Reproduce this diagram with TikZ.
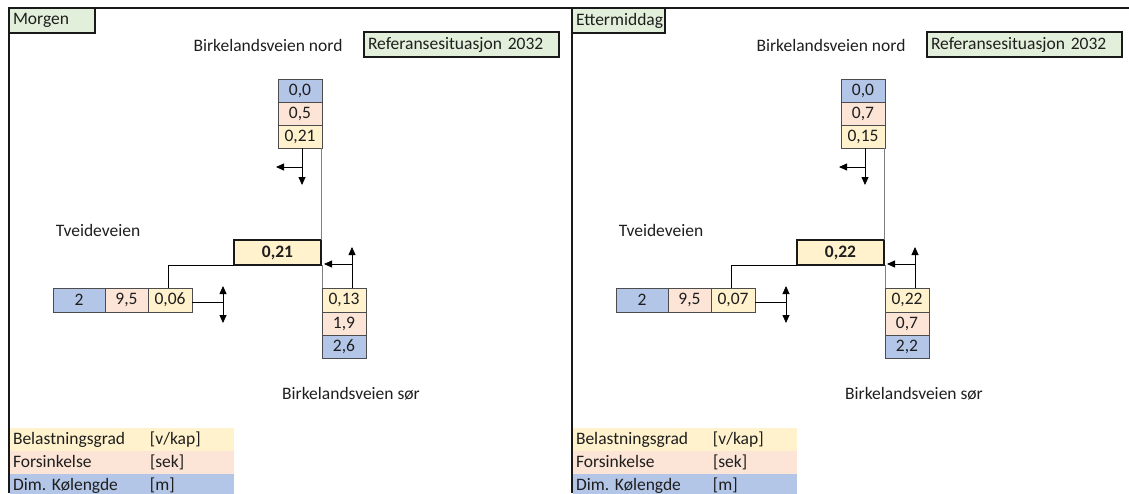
\documentclass[tikz,border=0pt]{standalone}
\usepackage{fontspec}
\setmainfont{Carlito}
\usetikzlibrary{positioning,arrows.meta}
\definecolor{blaa}{HTML}{B4C6E7}
\definecolor{rosa}{HTML}{FCE4D6}
\definecolor{gul}{HTML}{FFF2CC}
\definecolor{gronn}{HTML}{E2EFDA}
\definecolor{tekst}{HTML}{1E1E1E}
\tikzset{
  celle/.style={draw=black!70, line width=0.8pt, inner sep=0pt, outer sep=0pt, minimum width=44, minimum height=23},
  ramme/.style={draw=black!90, line width=2pt, inner sep=0pt, outer sep=0pt},
  tittel/.style={ramme, fill=gronn, inner xsep=4pt, minimum height=25, align=left, anchor=north west},
  forklaring/.style={inner xsep=3pt, inner ysep=0pt, outer sep=0pt, minimum height=23, text width=218pt, align=left, anchor=north west},
  pil/.style={-{Triangle[length=8pt,width=7pt]}, line width=0.8pt},
  dobbelpil/.style={{Triangle[length=8pt,width=7pt]}-{Triangle[length=8pt,width=7pt]}, line width=0.8pt},
  kobling/.style={line width=0.8pt}
}
\begin{document}
\begin{tikzpicture}[x=1pt,y=-1pt, every node/.style={text=tekst, font=\fontsize{17.5}{20}\selectfont}]
\useasboundingbox (0,0) rectangle (1129,493);
\draw[line width=2pt, black!90] (8,8) -- (1129,8);
\foreach \off/\tid/\tw/\nA/\nB/\nC/\midt/\vc/\sA/\sB/\sC [count=\i] in {
  0/Morgen/78/{0,0}/{0,5}/{0,21}/{0,21}/{0,06}/{0,13}/{1,9}/{2,6},
  563/Ettermiddag/85/{0,0}/{0,7}/{0,15}/{0,22}/{0,07}/{0,22}/{0,7}/{2,2}}{
\begin{scope}[xshift=\off pt]
  \draw[line width=2pt, black!90] (9,8) -- (9,493);
  \node[tittel, text width=\tw pt] (tid\i) at (9,8) {\tid};
  \node[tittel, text width=187pt] (ref\i) at (364,32) {Referansesituasjon 2032};
  \node (nord\i) at (268,45) {Birkelandsveien nord};
  \node (tveide\i) at (98,230) {Tveideveien};
  \node (sor\i) at (351,394) {Birkelandsveien sør};
  % nord
  \node[celle, fill=blaa] (na\i) at (300,90.5) {\nA};
  \node[celle, fill=rosa, below=0pt of na\i] (nb\i) {\nB};
  \node[celle, fill=gul, below=0pt of nb\i] (nc\i) {\nC};
  % midt
  \node[ramme, fill=gul, minimum width=87, minimum height=25, font=\fontsize{17.5}{20}\selectfont\bfseries] (midt\i) at (277.5,252.5) {\midt};
  % vest
  \node[celle, fill=blaa, minimum width=52, minimum height=24] (wa\i) at (79,300) {2};
  \node[celle, fill=rosa, minimum width=43, minimum height=24, right=0pt of wa\i] (wb\i) {9,5};
  \node[celle, fill=gul, minimum height=24, right=0pt of wb\i] (wc\i) {\vc};
  % sor
  \node[celle, fill=gul, minimum height=24] (sa\i) at (344,300) {\sA};
  \node[celle, fill=rosa, below=0pt of sa\i] (sb\i) {\sB};
  \node[celle, fill=blaa, below=0pt of sb\i] (sc\i) {\sC};
  % piler
  \coordinate (nv\i) at (302,185);
  \coordinate (nk\i) at (302,167);
  \coordinate (nh\i) at (276,167);
  \coordinate (wk\i) at (223,302);
  \coordinate (wo\i) at (223,286);
  \coordinate (wn\i) at (223,323);
  \coordinate (so\i) at (352,247);
  \coordinate (sk\i) at (352,264);
  \draw[pil] ([xshift=2pt]nc\i.south) -- (nv\i);
  \draw[pil] (nk\i) -- (nh\i);
  \draw[kobling] (wc\i.east |- wk\i) -- (wk\i);
  \draw[dobbelpil] (wo\i) -- (wn\i);
  \draw[pil] ([xshift=8pt]sa\i.north) -- (so\i);
  \draw[pil, shorten >=3pt] (sk\i) -- (sk\i -| midt\i.east);
  % koblinger
  \draw[kobling, black!50] (midt\i.north east) -- (midt\i.north east |- nc\i.south);
  \draw[kobling] (midt\i.south west) -| ([xshift=-2pt]wc\i.north);
  \draw[kobling, black!50] (sa\i.north west) -- (sa\i.north west |- midt\i.south);
  % forklaring
  \node[forklaring, fill=gul] (fa\i) at (10,428) {\makebox[137pt][l]{Belastningsgrad}[v/kap]};
  \node[forklaring, fill=rosa, below=0pt of fa\i] (fb\i) {\makebox[137pt][l]{Forsinkelse}[sek]};
  \node[forklaring, fill=blaa, below=0pt of fb\i] (fc\i) {\makebox[137pt][l]{Dim.\ Kølengde}[m]};
\end{scope}
}
\end{tikzpicture}
\end{document}
